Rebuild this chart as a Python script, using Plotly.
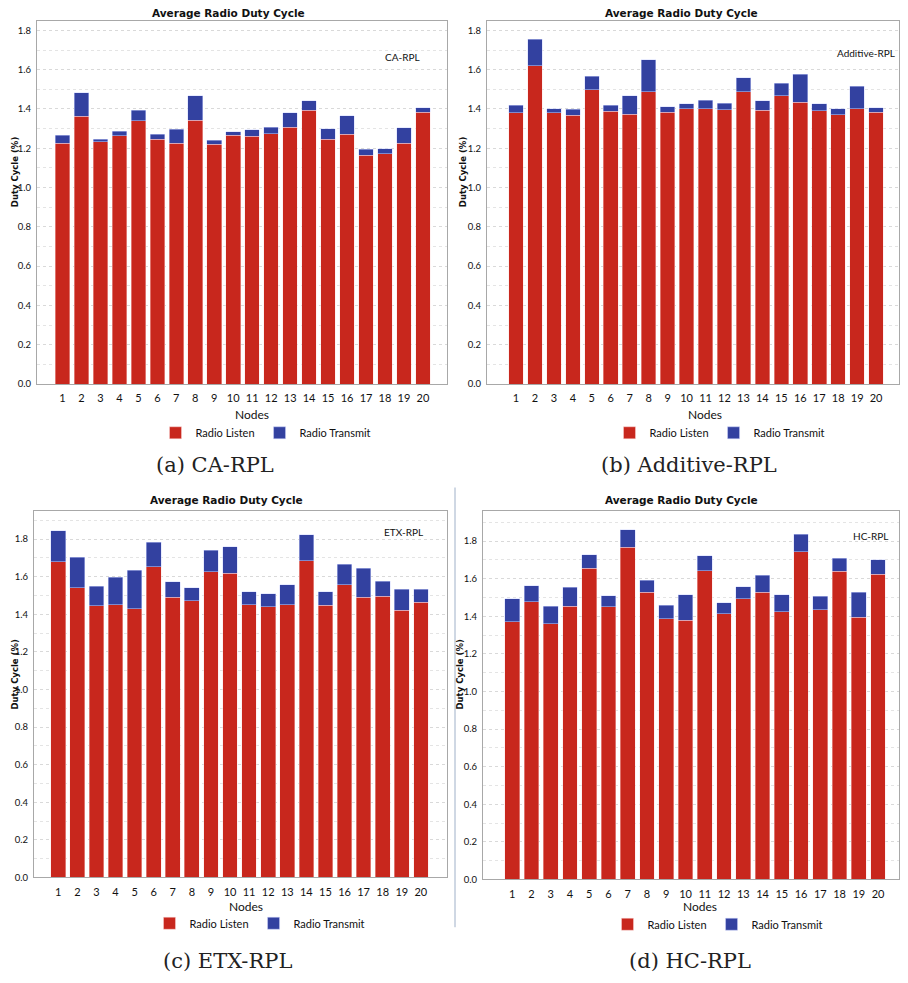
import plotly.graph_objects as go

nodes = list(range(1, 21))
tick_text = [str(n) for n in nodes]

ca_listen = [1.225, 1.363, 1.234, 1.264, 1.340, 1.245, 1.225, 1.343, 1.220, 1.267,
             1.260, 1.274, 1.308, 1.394, 1.247, 1.271, 1.164, 1.171, 1.225, 1.382]
ca_transmit = [0.042, 0.120, 0.011, 0.022, 0.054, 0.026, 0.073, 0.123, 0.020, 0.017,
               0.034, 0.034, 0.072, 0.047, 0.052, 0.094, 0.031, 0.027, 0.079, 0.023]

add_listen = [1.380, 1.621, 1.380, 1.369, 1.498, 1.389, 1.372, 1.488, 1.382, 1.402,
              1.400, 1.395, 1.488, 1.394, 1.466, 1.434, 1.392, 1.370, 1.400, 1.382]
add_transmit = [0.039, 0.135, 0.022, 0.030, 0.068, 0.030, 0.094, 0.162, 0.030, 0.024,
                0.044, 0.034, 0.071, 0.047, 0.066, 0.142, 0.034, 0.032, 0.115, 0.023]

etx_listen = [1.679, 1.540, 1.446, 1.451, 1.430, 1.652, 1.490, 1.473, 1.626, 1.617,
              1.451, 1.441, 1.451, 1.684, 1.448, 1.556, 1.490, 1.496, 1.420, 1.464]
etx_transmit = [0.164, 0.164, 0.103, 0.147, 0.203, 0.131, 0.083, 0.067, 0.113, 0.141,
                0.069, 0.067, 0.106, 0.140, 0.071, 0.109, 0.154, 0.079, 0.113, 0.070]

hc_listen = [1.370, 1.476, 1.360, 1.453, 1.656, 1.450, 1.767, 1.529, 1.386, 1.379,
             1.642, 1.414, 1.492, 1.527, 1.423, 1.744, 1.435, 1.639, 1.395, 1.624]
hc_transmit = [0.122, 0.087, 0.093, 0.101, 0.071, 0.060, 0.092, 0.062, 0.073, 0.136,
               0.081, 0.057, 0.065, 0.090, 0.092, 0.092, 0.071, 0.070, 0.134, 0.076]

panel_names = ["CA-RPL", "Additive-RPL", "ETX-RPL", "HC-RPL"]
captions = ["(a) CA-RPL", "(b) Additive-RPL", "(c) ETX-RPL", "(d) HC-RPL"]
series_names = ["Radio Listen", "Radio Transmit"]
chart_title = "Average Radio Duty Cycle"
y_title = "Duty Cycle (%)"
x_title = "Nodes"

# the page body keeps an 8px margin; the figure fills the rest of the 908x983 window
OFF = 8
W, H = 892, 967
RED = "#c8271d"
BLUE = "#3341a0"
NARROW = "Lato, Roboto, sans-serif"
BOLD = "DejaVu Sans, Verdana, sans-serif"

# panel geometry in window pixels
panels = [
    dict(l=37, r=447, t=21, b=386, xr=[-0.344, 21.27], ytop=1.848, yt_x=15, yt_y=173,
         title_x=228, title_y=13, name_x=422, name_y=57, cap_x=215, cap_y=467,
         leg_x=266, leg_y=435, nodes_x=252, nodes_y=417),
    dict(l=487, r=899, t=21, b=386, xr=[-0.53, 21.21], ytop=1.848, yt_x=463, yt_y=173,
         title_x=681, title_y=13, name_x=897, name_y=53, cap_x=689, cap_y=467,
         leg_x=720, leg_y=435, nodes_x=705, nodes_y=417),
    dict(l=34, r=447, t=514, b=882, xr=[-0.27, 21.37], ytop=1.947, yt_x=15, yt_y=678,
         title_x=226, title_y=503, name_x=425, name_y=535, cap_x=227, cap_y=966,
         leg_x=260, leg_y=928, nodes_x=246, nodes_y=911),
    dict(l=483, r=899, t=514, b=884, xr=[-0.52, 21.09], ytop=1.958, yt_x=460, yt_y=678,
         title_x=681, title_y=503, name_x=890, name_y=539, cap_x=690, cap_y=966,
         leg_x=718, leg_y=929, nodes_x=700, nodes_y=911),
]
listens = [ca_listen, add_listen, etx_listen, hc_listen]
transmits = [ca_transmit, add_transmit, etx_transmit, hc_transmit]


def px(x):
    return (x - OFF) / W


def py(y):
    return 1 - (y - OFF) / H


def note(text, x, y, font, angle=0, xanchor="center"):
    return dict(text=text, x=px(x), y=py(y), xref="paper", yref="paper", showarrow=False,
                xanchor=xanchor, yanchor="middle", textangle=angle, font=font)


fig = go.Figure()
annotations = []
layout_extra = {}

for i, p in enumerate(panels):
    k = "" if i == 0 else str(i + 1)
    xa, ya = "x" + k, "y" + k
    leg = "legend" + k
    fig.add_trace(go.Bar(x=nodes, y=listens[i], name=series_names[0],
                         marker=dict(color=RED, line=dict(color="rgba(255,225,225,0.7)", width=0.6)),
                         width=0.77, xaxis=xa, yaxis=ya, legend=leg))
    fig.add_trace(go.Bar(x=nodes, y=transmits[i], name=series_names[1],
                         marker=dict(color=BLUE, line=dict(color="rgba(210,215,255,0.8)", width=0.6)),
                         width=0.77, xaxis=xa, yaxis=ya, legend=leg))
    layout_extra["xaxis" + k] = dict(
        domain=[px(p["l"]), px(p["r"])], anchor=ya, range=p["xr"],
        tickmode="array", tickvals=nodes, ticktext=tick_text,
        tickfont=dict(family=NARROW, size=11, color="#111"),
        showgrid=False, zeroline=False, showline=True, linecolor="#a8a8a8",
        linewidth=1, mirror=True, ticks="", ticklabelstandoff=4, fixedrange=True)
    layout_extra["yaxis" + k] = dict(
        domain=[py(p["b"]), py(p["t"])], anchor=xa, range=[0, p["ytop"]],
        dtick=0.2, tickformat=".1f",
        tickfont=dict(family=NARROW, size=9.5, color="#111"),
        showgrid=True, gridcolor="#d9d9d9", griddash="dot", gridwidth=1,
        minor=dict(dtick=0.1, showgrid=True, gridcolor="#e4e4e4", griddash="dot"),
        zeroline=False, showline=True, linecolor="#a8a8a8", linewidth=1,
        mirror=True, ticks="", ticklabelstandoff=3, fixedrange=True)
    annotations.append(note("<b>" + chart_title + "</b>", p["title_x"], p["title_y"],
                            dict(family=BOLD, size=10.5, color="#111")))
    annotations.append(note("<b>" + y_title + "</b>", p["yt_x"], p["yt_y"],
                            dict(family=BOLD, size=8.5, color="#111"), angle=-90))
    annotations.append(note(x_title, p["nodes_x"], p["nodes_y"],
                            dict(family=NARROW, size=12, color="#111")))
    annotations.append(note(panel_names[i], p["name_x"], p["name_y"],
                            dict(family=NARROW, size=10, color="#111"), xanchor="right"))
    annotations.append(note(captions[i], p["cap_x"], p["cap_y"],
                            dict(family="DejaVu Serif, Liberation Serif, serif", size=21, color="#222")))
    layout_extra[leg] = dict(
        orientation="h", x=px(p["leg_x"]), xanchor="center",
        y=py(p["leg_y"]), yanchor="middle",
        font=dict(family=NARROW, size=11, color="#111"), itemwidth=30,
        bgcolor="rgba(0,0,0,0)", traceorder="normal", itemclick=False)

fig.update_layout(
    width=W, height=H, barmode="stack", paper_bgcolor="white", plot_bgcolor="white",
    margin=dict(l=0, r=0, t=0, b=0), annotations=annotations, showlegend=True,
    shapes=[dict(type="line", xref="paper", yref="paper", x0=px(455), x1=px(455),
                 y0=py(490), y1=py(932), line=dict(color="#9fb0c8", width=1))],
    **layout_extra)

fig.write_html("out.html")
